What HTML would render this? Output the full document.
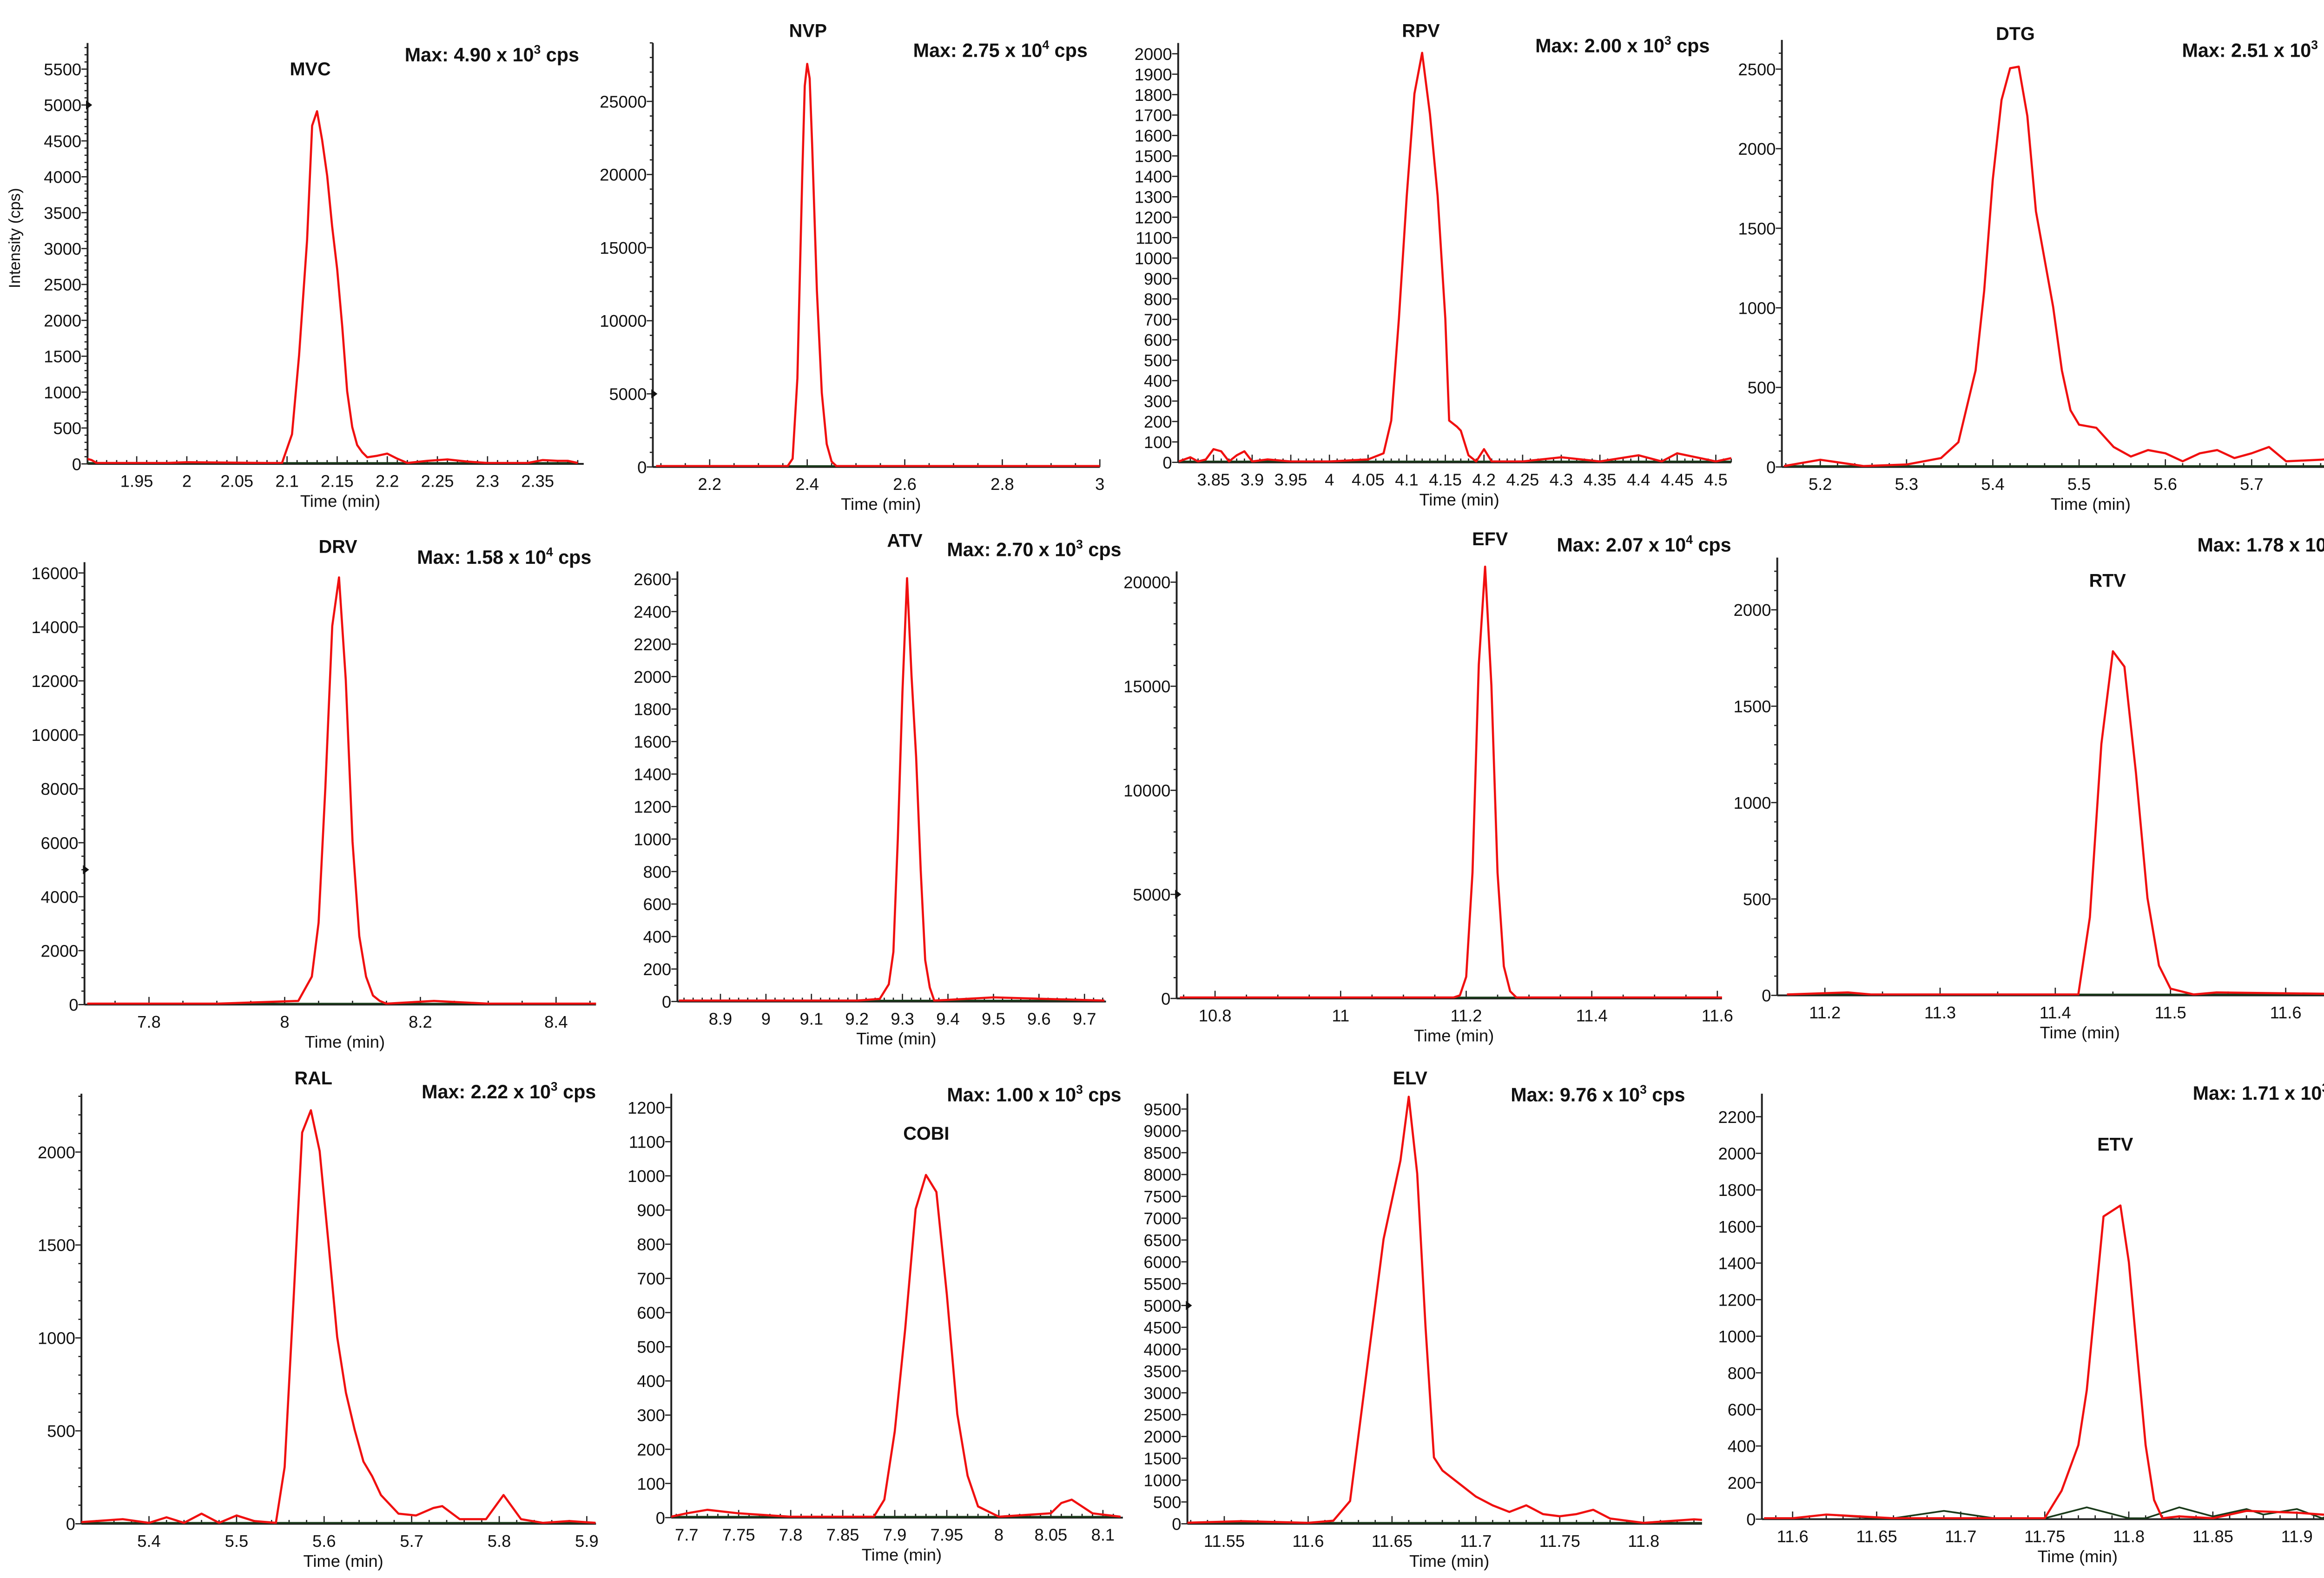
<!DOCTYPE html>
<html><head><meta charset="utf-8">
<style>
html,body{margin:0;padding:0;background:#fff;}
svg{display:block;}
text{font-family:"Liberation Sans",sans-serif;fill:#111;}
</style></head>
<body>
<svg id="fig" xmlns="http://www.w3.org/2000/svg" width="5182" height="3395" viewBox="0 0 1568 1027.3" preserveAspectRatio="none"></svg>
<script>
// ---- data (time in min, intensity in cps) ----
const mvcT=[1.90,1.905,1.91,1.98,2.0,2.08,2.095,2.105,2.112,2.12,2.125,2.13,2.135,2.14,2.145,2.15,2.155,2.16,2.165,2.17,2.175,2.18,2.19,2.2,2.21,2.22,2.24,2.26,2.28,2.3,2.34,2.355,2.37,2.38,2.39];
const mvcI=[60,40,0,0,10,0,0,400,1500,3100,4700,4900,4500,4000,3300,2700,1900,1000,500,250,150,80,100,130,60,0,30,50,20,0,0,40,30,30,0];
const nvpT=[2.09,2.2,2.36,2.37,2.38,2.39,2.395,2.40,2.405,2.41,2.42,2.43,2.44,2.45,2.46,3.0];
const nvpI=[0,0,0,500,6000,20000,26000,27500,26500,22000,12000,5000,1500,300,0,0];
const rpvT=[3.805,3.82,3.83,3.84,3.85,3.86,3.87,3.88,3.89,3.9,3.92,3.95,4.0,4.05,4.07,4.08,4.09,4.1,4.11,4.12,4.13,4.14,4.15,4.155,4.165,4.17,4.18,4.19,4.2,4.21,4.25,4.3,4.35,4.4,4.43,4.45,4.5,4.525];
const rpvI=[0,20,0,10,60,50,0,30,50,0,10,0,0,10,40,200,700,1300,1800,2000,1700,1300,700,200,170,150,30,0,60,0,0,20,0,30,0,40,0,20];
const dtgT=[5.158,5.2,5.25,5.3,5.34,5.36,5.38,5.39,5.40,5.41,5.42,5.43,5.44,5.45,5.46,5.47,5.48,5.49,5.5,5.52,5.54,5.56,5.58,5.6,5.62,5.64,5.66,5.68,5.7,5.72,5.74,5.78,5.82,5.86,5.887];
const dtgI=[0,40,0,10,50,150,600,1100,1800,2300,2500,2510,2200,1600,1300,1000,600,350,260,240,120,60,100,80,30,80,100,50,80,120,30,40,60,20,30];
const drvT=[7.709,7.8,7.9,8.02,8.04,8.05,8.06,8.07,8.08,8.09,8.10,8.11,8.12,8.13,8.14,8.15,8.22,8.3,8.464];
const drvI=[0,0,0,100,1000,3000,8000,14000,15800,12000,6000,2500,1000,300,100,0,100,0,0];
const atvT=[8.809,9.0,9.2,9.25,9.27,9.28,9.29,9.30,9.31,9.32,9.33,9.34,9.35,9.36,9.37,9.5,9.744];
const atvI=[0,0,0,10,100,300,1000,1900,2600,2000,1500,800,250,80,0,20,0];
const efvT=[10.744,11.0,11.18,11.19,11.20,11.21,11.22,11.23,11.24,11.25,11.26,11.27,11.28,11.61];
const efvI=[0,0,0,100,1000,6000,16000,20700,15000,6000,1500,300,0,0];
const rtvT=[11.167,11.22,11.24,11.3,11.42,11.43,11.44,11.45,11.46,11.47,11.48,11.49,11.5,11.52,11.54,11.68];
const rtvI=[0,10,0,0,0,400,1300,1780,1700,1150,500,150,30,0,10,0];
const ralT=[5.31,5.37,5.4,5.42,5.44,5.46,5.48,5.5,5.52,5.545,5.555,5.565,5.575,5.585,5.595,5.605,5.615,5.625,5.635,5.645,5.655,5.665,5.685,5.705,5.725,5.735,5.755,5.785,5.805,5.825,5.85,5.88,5.91];
const ralI=[0,20,0,30,0,50,0,40,10,0,300,1200,2100,2220,2000,1500,1000,700,500,330,250,150,50,40,80,90,20,20,150,20,0,10,0];
const cobiT=[7.685,7.7,7.72,7.75,7.8,7.85,7.88,7.89,7.9,7.91,7.92,7.93,7.94,7.95,7.96,7.97,7.98,8.0,8.05,8.06,8.07,8.09,8.117];
const cobiI=[0,10,20,10,0,0,0,50,250,550,900,1000,950,650,300,120,30,0,10,40,50,10,0];
const elvT=[11.525,11.56,11.6,11.615,11.625,11.635,11.645,11.655,11.66,11.665,11.67,11.675,11.68,11.69,11.70,11.71,11.72,11.73,11.74,11.75,11.76,11.77,11.78,11.8,11.83,11.862];
const elvI=[0,40,0,50,500,3500,6500,8300,9760,8000,4500,1500,1200,900,600,400,250,400,200,150,200,300,100,0,80,0];
const etvT=[11.583,11.6,11.62,11.66,11.7,11.73,11.75,11.76,11.77,11.775,11.785,11.795,11.80,11.805,11.81,11.815,11.82,11.83,11.85,11.87,11.9,11.93,11.956];
const etvI=[0,0,20,0,0,0,0,150,400,700,1650,1710,1400,900,400,100,0,10,0,40,30,10,0];
const etvBkT=[11.6,11.62,11.65,11.66,11.69,11.72,11.75,11.775,11.8,11.81,11.83,11.85,11.87,11.88,11.9,11.915,11.935,11.95];
const etvBkI=[0,20,0,0,40,0,0,60,0,0,60,10,50,20,50,0,80,20];
const titles=["MVC","NVP","RPV","DTG","DRV","ATV","EFV","RTV","RAL","COBI","ELV","ETV"];
const maxMant=["4.90","2.75","2.00","2.51","1.58","2.70","2.07","1.78","2.22","1.00","9.76","1.71"];
const maxExp=["3","4","3","3","4","3","4","3","3","3","3","3"];

// ---- layout (display units) ----
const P=[
 {ax:57,y0:302,yt:28,yv:5500,yp:45,ys:500,ym:5,xa:1.95,pa:89,xb:2.35,pb:350,xr:380,xt:[1.95,2,2.05,2.1,2.15,2.2,2.25,2.3,2.35],xm:5,tx:202,ty:49,mx:377,my:40,T:mvcT,I:mvcI,arrow:5000},
 {ax:425,y0:304,yt:28,yv:25000,yp:66,ys:5000,ym:5,xa:2.2,pa:462,xb:3.0,pb:716,xr:716,xt:[2.2,2.4,2.6,2.8,3],xm:4,tx:526,ty:24,mx:708,my:37,T:nvpT,I:nvpI,arrow:5000},
 {ax:767,y0:301,yt:28,yv:2000,yp:35,ys:100,ym:1,xa:3.85,pa:790,xb:4.5,pb:1117,xr:1127,xt:[3.85,3.9,3.95,4,4.05,4.1,4.15,4.2,4.25,4.3,4.35,4.4,4.45,4.5],xm:5,tx:925,ty:24,mx:1113,my:34,T:rpvT,I:rpvI},
 {ax:1160,y0:304,yt:26,yv:2500,yp:45,ys:500,ym:5,xa:5.2,pa:1185,xb:5.8,pb:1522,xr:1556,xt:[5.2,5.3,5.4,5.5,5.6,5.7,5.8],xm:5,tx:1312,ty:26,mx:1534,my:37,T:dtgT,I:dtgI},
 {ax:55,y0:654,yt:366,yv:16000,yp:373,ys:2000,ym:4,xa:7.8,pa:97,xb:8.4,pb:362,xr:388,xt:[7.8,8,8.2,8.4],xm:4,tx:220,ty:360,mx:385,my:367,T:drvT,I:drvI,arrow:5000},
 {ax:441,y0:652,yt:372,yv:2600,yp:377,ys:200,ym:2,xa:8.9,pa:469,xb:9.7,pb:706,xr:720,xt:[8.9,9,9.1,9.2,9.3,9.4,9.5,9.6,9.7],xm:5,tx:589,ty:356,mx:730,my:362,T:atvT,I:atvI},
 {ax:766,y0:650,yt:372,yv:20000,yp:379,ys:5000,ym:5,xa:10.8,pa:791,xb:11.6,pb:1118,xr:1121,xt:[10.8,11,11.2,11.4,11.6],xm:4,tx:970,ty:355,mx:1127,my:359,T:efvT,I:efvI,arrow:5000},
 {ax:1157,y0:648,yt:363,yv:2000,yp:397,ys:500,ym:5,xa:11.2,pa:1188,xb:11.6,pb:1488,xr:1545,xt:[11.2,11.3,11.4,11.5,11.6],xm:2,tx:1372,ty:382,mx:1544,my:359,T:rtvT,I:rtvI},
 {ax:53,y0:992,yt:712,yv:2000,yp:750,ys:500,ym:5,xa:5.4,pa:97,xb:5.9,pb:382,xr:388,xt:[5.4,5.5,5.6,5.7,5.8,5.9],xm:5,tx:204,ty:706,mx:388,my:715,T:ralT,I:ralI},
 {ax:437,y0:988,yt:712,yv:1200,yp:721,ys:100,ym:1,xa:7.7,pa:447,xb:8.1,pb:718,xr:731,xt:[7.7,7.75,7.8,7.85,7.9,7.95,8,8.05,8.1],xm:5,tx:603,ty:742,mx:730,my:717,T:cobiT,I:cobiI},
 {ax:773,y0:992,yt:712,yv:9500,yp:722,ys:500,ym:1,xa:11.55,pa:797,xb:11.8,pb:1070,xr:1108,xt:[11.55,11.6,11.65,11.7,11.75,11.8],xm:5,tx:918,ty:706,mx:1097,my:717,T:elvT,I:elvI,arrow:5000},
 {ax:1147,y0:989,yt:712,yv:2200,yp:727,ys:200,ym:1,xa:11.6,pa:1167,xb:11.95,pb:1550,xr:1552,xt:[11.6,11.65,11.7,11.75,11.8,11.85,11.9,11.95],xm:5,tx:1377,ty:749,mx:1541,my:716,T:etvT,I:etvI,BT:etvBkT,BI:etvBkI}
];
const NS="http://www.w3.org/2000/svg";
const svg=document.getElementById('fig');
function mk(tag,attrs,parent){const e=document.createElementNS(NS,tag);for(const k in attrs)e.setAttribute(k,attrs[k]);(parent||svg).appendChild(e);return e;}
P.forEach((p,i)=>{
  const g=mk('g',{});
  
  
  const sx=(p.pb-p.pa)/(p.xb-p.xa);
  const X=v=>p.pa+(v-p.xa)*sx;
  const Y=v=>p.y0-(v/p.yv)*(p.y0-p.yp);
  const clip=mk('clipPath',{id:'c'+i},g);
  mk('rect',{x:p.ax,y:p.yt-30,width:p.xr-p.ax,height:p.y0-p.yt+30},clip);
  const ya=mk('line',{x1:p.ax,y1:p.yt,x2:p.ax,y2:p.y0,stroke:'#222','stroke-width':1.2},g);
  
  const xa=mk('line',{x1:p.ax,y1:p.y0,x2:p.xr,y2:p.y0,stroke:'#222','stroke-width':1.2},g);
  
  const minorStep=p.ys/p.ym;
  for(let v=0;Y(v)>=p.yt-0.1;v+=minorStep){
    const major=Math.abs((v/p.ys)-Math.round(v/p.ys))<1e-6;
    mk('line',{x1:p.ax-(major?4:2),y1:Y(v),x2:p.ax,y2:Y(v),stroke:'#222','stroke-width':0.8},g);
    if(major&&v<=p.yv+1e-6){
      const t=mk('text',{x:p.ax-4,y:Y(v)+4,'font-size':11,'text-anchor':'end'},g);
      t.textContent=String(Math.round(v));
      
    }
  }
  if(p.arrow){mk('path',{d:`M${p.ax-1},${Y(p.arrow)-3} L${p.ax+3},${Y(p.arrow)} L${p.ax-1},${Y(p.arrow)+3}Z`,fill:'#111'},g);}
  const xs=(p.xt[1]-p.xt[0])/p.xm;
  const x0=p.xa-Math.floor(((p.pa-p.ax)/sx)/xs)*xs;
  for(let v=x0;X(v)<=p.xr+0.1;v+=xs){
    if(X(v)<p.ax-0.1)continue;
    const k=(v-p.xa)/(p.xt[1]-p.xt[0]);
    const major=Math.abs(k-Math.round(k))<1e-6;
    mk('line',{x1:X(v),y1:p.y0,x2:X(v),y2:p.y0-(major?5:2.5),stroke:'#222','stroke-width':0.8},g);
  }
  p.xt.forEach(v=>{
    const t=mk('text',{x:X(v),y:p.y0+15,'font-size':11,'text-anchor':'middle'},g);
    t.textContent=String(v);
    
  });
  const xt=mk('text',{x:(p.ax+p.xr)/2+3,y:p.y0+28,'font-size':11,'text-anchor':'middle'},g);
  xt.textContent='Time (min)';
  
  const bt=p.BT||[p.T[0],p.T[p.T.length-1]];
  const bi=p.BI||[0,0];
  const bl=mk('polyline',{points:bt.map((t,j)=>X(t).toFixed(1)+','+(Y(bi[j])-0.6).toFixed(1)).join(' '),fill:'none',stroke:'#1a3a1a','stroke-width':1.1,'clip-path':'url(#c'+i+')'},g);
  
  const pl=mk('polyline',{points:p.T.map((t,j)=>X(t).toFixed(1)+','+(Y(p.I[j])-0.6).toFixed(1)).join(' '),fill:'none',stroke:'#f01010','stroke-width':1.4,'stroke-linejoin':'round','clip-path':'url(#c'+i+')'},g);
  
  const tt=mk('text',{x:p.tx,y:p.ty,'font-size':12,'font-weight':'bold','text-anchor':'middle'},g);
  tt.textContent=titles[i];
  
  const mt=mk('text',{x:p.mx,y:p.my,'font-size':12.5,'font-weight':'bold','text-anchor':'end'},g);
  
  const s1=mk('tspan',{},mt);s1.textContent='Max: '+maxMant[i]+' x 10';
  const s2=mk('tspan',{dy:-5,'font-size':8},mt);s2.textContent=maxExp[i];
  const s3=mk('tspan',{dy:5},mt);s3.textContent=' cps';
});
const yl=mk('text',{x:0,y:0,'font-size':10.5,'text-anchor':'middle',transform:'translate(13,155) rotate(-90)'});
yl.textContent='Intensity (cps)';


</script>
</body></html>
